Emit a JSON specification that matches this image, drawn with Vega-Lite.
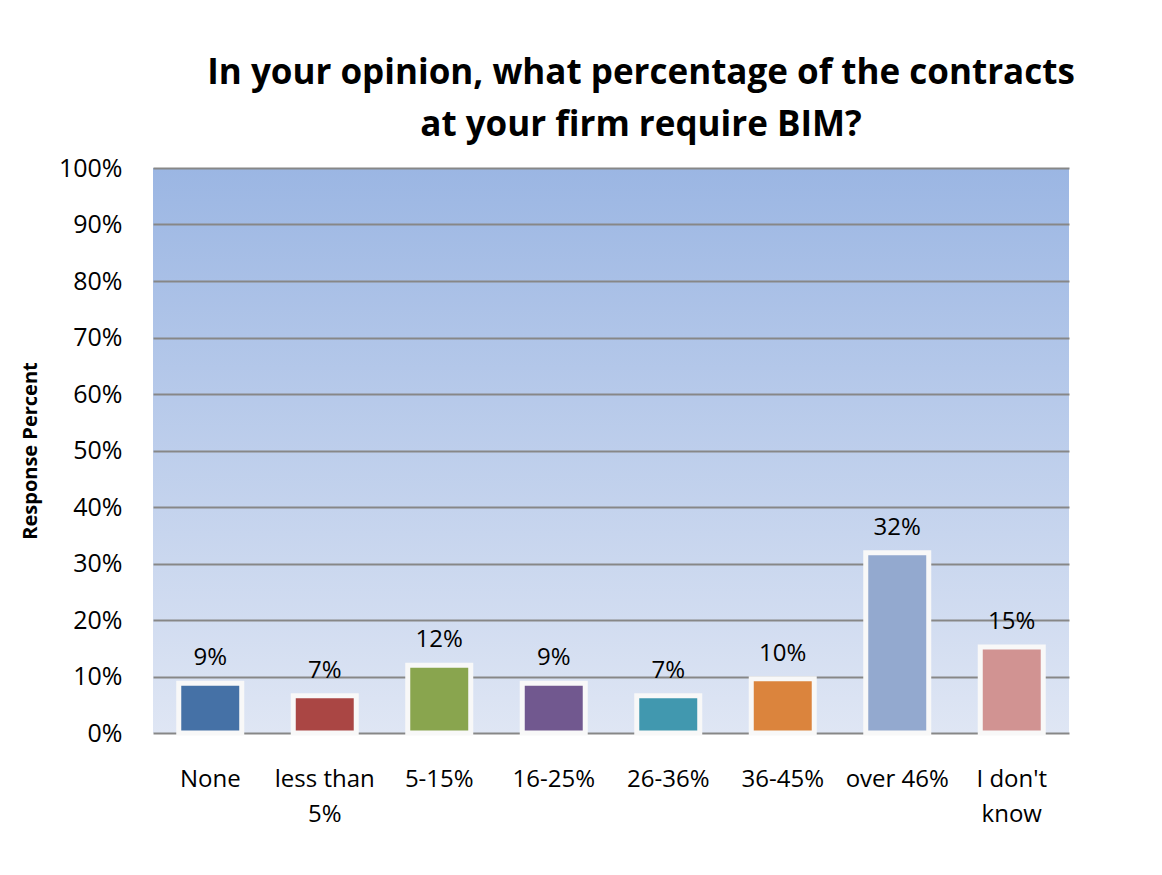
{
  "$schema": "https://vega.github.io/schema/vega-lite/v6.json",
  "width": 916,
  "height": 565,
  "autosize": {"type": "none"},
  "padding": {"left": 153, "top": 168, "right": 93, "bottom": 142},
  "background": "white",
  "title": {
    "text": ["In your opinion, what percentage of the contracts", "at your firm require BIM?"],
    "font": "Open Sans",
    "fontSize": 35,
    "fontWeight": "bold",
    "color": "#000000",
    "anchor": "middle",
    "dx": 30,
    "lineHeight": 52,
    "offset": 13
  },
  "data": {
    "values": [
      {"category": "None", "value": 0.088, "label": "9%"},
      {"category": "less than 5%", "value": 0.066, "label": "7%"},
      {"category": "5-15%", "value": 0.12, "label": "12%"},
      {"category": "16-25%", "value": 0.088, "label": "9%"},
      {"category": "26-36%", "value": 0.066, "label": "7%"},
      {"category": "36-45%", "value": 0.096, "label": "10%"},
      {"category": "over 46%", "value": 0.319, "label": "32%"},
      {"category": "I don't know", "value": 0.152, "label": "15%"}
    ]
  },
  "encoding": {
    "x": {
      "field": "category",
      "type": "nominal",
      "sort": null,
      "scale": {"paddingInner": 0.45, "paddingOuter": 0.225},
      "axis": {
        "title": null,
        "labelAngle": 0,
        "labelFont": "Open Sans",
        "labelFontSize": 24,
        "labelColor": "#000000",
        "labelPadding": 34,
        "labelBaseline": "top",
        "labelLineHeight": 35,
        "ticks": false,
        "domain": false,
        "labelExpr": "datum.value == 'less than 5%' ? ['less than', '5%'] : datum.value == \"I don't know\" ? [\"I don't\", 'know'] : datum.value"
      }
    },
    "y": {
      "field": "value",
      "type": "quantitative",
      "scale": {"domain": [0, 1]},
      "axis": {
        "title": "Response Percent",
        "titleFont": "Open Sans",
        "titleFontSize": 20,
        "titleFontWeight": "bold",
        "titleColor": "#000000",
        "titlePadding": 18,
        "format": ".0%",
        "values": [0, 0.1, 0.2, 0.3, 0.4, 0.5, 0.6, 0.7, 0.8, 0.9, 1.0],
        "labelFont": "Open Sans",
        "labelFontSize": 25,
        "labelColor": "#000000",
        "labelPadding": 31,
        "ticks": false,
        "domain": false,
        "grid": true,
        "gridColor": "#878787",
        "gridWidth": 2
      }
    }
  },
  "layer": [
    {
      "mark": {"type": "bar", "stroke": "#f8f8f8", "strokeWidth": 5},
      "encoding": {
        "color": {
          "field": "category",
          "type": "nominal",
          "sort": null,
          "legend": null,
          "scale": {
            "domain": ["None", "less than 5%", "5-15%", "16-25%", "26-36%", "36-45%", "over 46%", "I don't know"],
            "range": ["#4571a6", "#aa4644", "#89a54e", "#71588f", "#4198af", "#db843d", "#93a9cf", "#d19392"]
          }
        }
      }
    },
    {
      "mark": {"type": "text", "font": "Open Sans", "fontSize": 24, "color": "#000000", "baseline": "alphabetic", "dy": -18},
      "encoding": {"text": {"field": "label"}}
    }
  ],
  "config": {
    "view": {
      "stroke": null,
      "fill": {
        "gradient": "linear",
        "x1": 0, "y1": 0, "x2": 0, "y2": 1,
        "stops": [
          {"offset": 0, "color": "#9bb6e3"},
          {"offset": 1, "color": "#dfe6f4"}
        ]
      }
    }
  }
}
